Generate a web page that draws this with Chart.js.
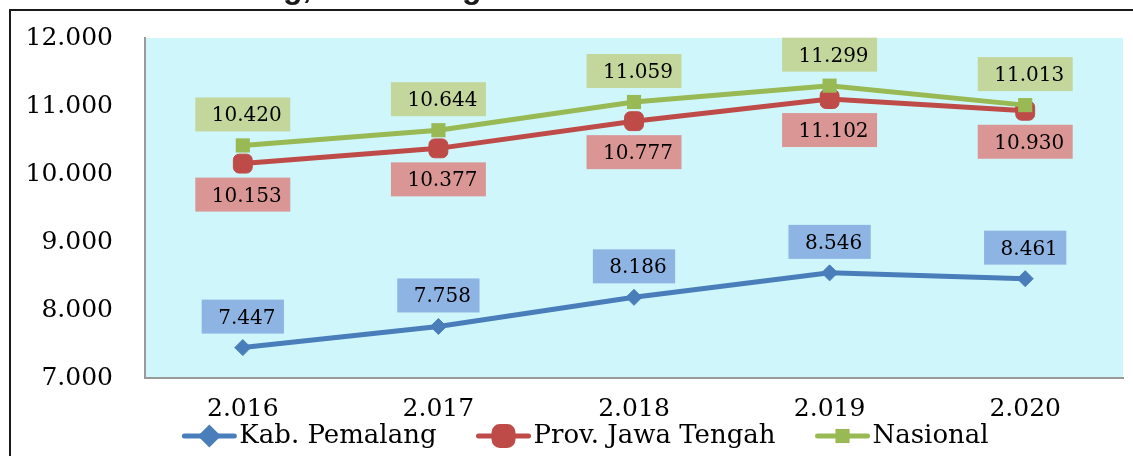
<!DOCTYPE html>
<html>
<head>
<meta charset="utf-8">
<title>Kab. Pemalang, Jawa Tengah dan Nasional</title>
<script src="https://cdn.jsdelivr.net/npm/chart.js@4.4.1/dist/chart.umd.min.js"></script>
<style>
  html, body { margin:0; padding:0; background:#fff; overflow:hidden; }
  .wrap { width:1133px; height:456px; }
  canvas { display:block; }
</style>
</head>
<body>
<div class="wrap"><canvas id="chart1" width="1133" height="456"></canvas></div>
<script>
// data
var years = ['2.016', '2.017', '2.018', '2.019', '2.020'];
var pemalang = [7447, 7758, 8186, 8546, 8461];
var jateng = [10153, 10377, 10777, 11102, 10930];
var nasional = [10420, 10644, 11059, 11299, 11013];
var seriesNames = ['Kab. Pemalang', 'Prov. Jawa Tengah', 'Nasional'];
var yMin = 7000, yMax = 12000, yStep = 1000;
var titleText = 'Kab. Pemalang, Jawa Tengah dan Nasional';

var SERIF = '"DejaVu Serif", "Liberation Serif", serif';

function fmt(v) {
  return String(v).replace(/\B(?=(\d{3})+(?!\d))/g, '.');
}

// light cyan plot area
var plotBg = {
  id: 'plotBg',
  beforeDraw: function(chart) {
    var a = chart.chartArea, ctx = chart.ctx;
    ctx.save();
    ctx.fillStyle = '#CFF7FB';
    ctx.fillRect(a.left, a.top, a.right - a.left, a.bottom - a.top);
    ctx.restore();
  }
};

// boxed value labels (Excel style)
var valueBoxes = {
  id: 'valueBoxes',
  afterDatasetsDraw: function(chart) {
    var ctx = chart.ctx;
    ctx.save();
    ctx.font = '20px ' + SERIF;
    chart.data.datasets.forEach(function(ds, i) {
      var meta = chart.getDatasetMeta(i);
      meta.data.forEach(function(pt, j) {
        var txt = fmt(ds.data[j]);
        var w = ctx.measureText(txt).width + 25, h = 34;
        var cy = pt.y + (ds.labelSide === 'below' ? 31 : -31);
        ctx.fillStyle = ds.labelBg;
        ctx.fillRect(pt.x - w / 2, cy - h / 2, w, h);
        ctx.fillStyle = '#000';
        ctx.textAlign = 'center';
        ctx.textBaseline = 'alphabetic';
        ctx.fillText(txt, pt.x + 4, cy + 7);
      });
    });
    ctx.restore();
  }
};

// legend with line + marker keys, frame and clipped title
var frameAndLegend = {
  id: 'frameAndLegend',
  afterDraw: function(chart) {
    var ctx = chart.ctx;
    ctx.save();
    // frame
    ctx.fillStyle = '#1a1a1a';
    ctx.fillRect(9, 9, 2, chart.height - 9);
    ctx.fillRect(9, 9, chart.width - 9, 2);
    // title, only its descenders are inside the picture
    ctx.font = 'bold 32px "Liberation Sans", Arial, sans-serif';
    ctx.textAlign = 'left';
    ctx.textBaseline = 'alphabetic';
    var tx = 283 - ctx.measureText('Kab. Pemalan').width;
    ctx.fillText(titleText, tx, -2);

    // legend
    ctx.font = '26px ' + SERIF;
    var keyW = 56, gapText = 2, gapItem = 39, ly = 436;
    var items = chart.data.datasets.map(function(ds) {
      return { ds: ds, w: ctx.measureText(ds.label).width };
    });
    var total = gapItem * (items.length - 1);
    items.forEach(function(it) { total += keyW + gapText + it.w; });
    var x = 585 - total / 2;
    items.forEach(function(it) {
      var ds = it.ds;
      ctx.strokeStyle = ds.borderColor;
      ctx.lineWidth = 5;
      ctx.lineCap = 'round';
      ctx.beginPath();
      ctx.moveTo(x + 3, ly);
      ctx.lineTo(x + keyW - 3, ly);
      ctx.stroke();
      ctx.fillStyle = ds.pointBackgroundColor;
      ctx.strokeStyle = ds.pointBorderColor;
      Chart.helpers.drawPoint(ctx, {
        pointStyle: ds.pointStyle,
        radius: ds.pointRadius,
        borderWidth: ds.pointBorderWidth,
        rotation: 0
      }, x + keyW / 2, ly);
      ctx.fillStyle = '#000';
      ctx.textAlign = 'left';
      ctx.textBaseline = 'middle';
      ctx.fillText(ds.label, x + keyW + gapText, ly);
      x += keyW + gapText + it.w + gapItem;
    });
    ctx.restore();
  }
};

var ctx = document.getElementById('chart1').getContext('2d');
var chart = new Chart(ctx, {
  type: 'line',
  data: {
    labels: years,
    datasets: [
      {
        label: seriesNames[0],
        data: pemalang,
        borderColor: '#4A7EBB',
        backgroundColor: '#4A7EBB',
        pointStyle: 'rectRot',
        pointRadius: 8,
        pointBorderWidth: 1,
        pointBackgroundColor: '#4A7EBB',
        pointBorderColor: '#4A7EBB',
        labelBg: '#8EB4E3',
        labelSide: 'above',
        order: 2
      },
      {
        label: seriesNames[1],
        data: jateng,
        borderColor: '#BE4B48',
        backgroundColor: '#BE4B48',
        pointStyle: 'rectRounded',
        pointRadius: 11,
        pointBorderWidth: 1,
        pointBackgroundColor: '#BE4B48',
        pointBorderColor: '#BE4B48',
        labelBg: '#D99694',
        labelSide: 'below',
        order: 1
      },
      {
        label: seriesNames[2],
        data: nasional,
        borderColor: '#98B954',
        backgroundColor: '#98B954',
        pointStyle: 'rect',
        pointRadius: 10,
        pointBorderWidth: 0,
        pointBackgroundColor: '#98B954',
        pointBorderColor: '#98B954',
        labelBg: '#C3D69B',
        labelSide: 'above',
        order: 0
      }
    ]
  },
  options: {
    responsive: false,
    animation: false,
    devicePixelRatio: 1,
    elements: { line: { borderWidth: 5, tension: 0 } },
    layout: { autoPadding: false, padding: { top: 38, right: 10, left: 0, bottom: 0 } },
    plugins: {
      legend: { display: false },
      tooltip: { enabled: false },
      title: { display: false }
    },
    scales: {
      x: {
        offset: true,
        grid: { display: false, drawTicks: false },
        border: { display: true, color: '#9A9A9A', width: 2 },
        ticks: { color: '#000', font: { family: SERIF, size: 25 }, padding: 16, maxRotation: 0 },
        afterFit: function(s) { s.height = 78; }
      },
      y: {
        min: yMin,
        max: yMax,
        grid: { display: false, drawTicks: false },
        border: { display: true, color: '#9A9A9A', width: 2 },
        ticks: {
          stepSize: yStep,
          color: '#000',
          font: { family: SERIF, size: 25 },
          padding: 32,
          callback: function(v) { return fmt(v); }
        },
        afterFit: function(s) { s.width = 145; s.paddingTop = 0; }
      }
    }
  },
  plugins: [plotBg, valueBoxes, frameAndLegend]
});
</script>
</body>
</html>
